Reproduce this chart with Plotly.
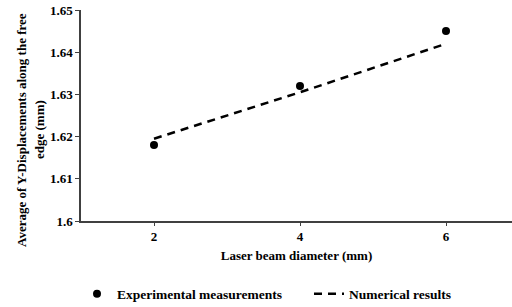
import plotly.graph_objects as go

diameter = [2, 4, 6]
experimental = [1.618, 1.632, 1.645]
numerical = [1.6195, 1.6305, 1.642]
y_ticks = [1.6, 1.61, 1.62, 1.63, 1.64, 1.65]
y_tick_labels = ["1.6", "1.61", "1.62", "1.63", "1.64", "1.65"]
x_ticks = [2, 4, 6]

W, H = 512, 307
L, R, T, B = 81, 0, 10, 86
pw = W - L - R
ph = H - T - B

def px_x(p):
    return (p - L) / pw

def px_y(p):
    return (H - B - p) / ph

FONT = "Liberation Serif"

fig = go.Figure()
fig.add_trace(go.Scatter(
    x=diameter, y=experimental, mode="markers",
    name="<b>Experimental measurements</b>",
    marker=dict(color="black", size=8),
    legend="legend",
))
fig.add_trace(go.Scatter(
    x=diameter, y=numerical, mode="lines",
    name="<b>Numerical results</b>",
    line=dict(color="black", width=2.5, dash="8px,6px"),
    legend="legend2",
))

fig.update_layout(
    width=W, height=H,
    margin=dict(l=L, r=R, t=T, b=B, autoexpand=False),
    plot_bgcolor="white", paper_bgcolor="white",
    font=dict(family=FONT, size=13, color="black"),
    showlegend=True,
    legend=dict(x=px_x(77), y=px_y(294), xanchor="left", yanchor="middle",
                bgcolor="rgba(0,0,0,0)", font=dict(family=FONT, size=13.5),
                tracegroupgap=0),
    legend2=dict(x=px_x(309), y=px_y(294), xanchor="left", yanchor="middle",
                 bgcolor="rgba(0,0,0,0)", font=dict(family=FONT, size=13.5)),
    xaxis=dict(range=[1, 1 + pw / 73.0], tickvals=x_ticks,
               ticktext=["<b>%d</b>" % v for v in x_ticks],
               showgrid=False, zeroline=False, showline=True,
               linecolor="#404040", linewidth=1.5,
               ticks="outside", ticklen=3, tickcolor="#404040",
               tickfont=dict(family=FONT, size=13),
               title=dict(text="<b>Laser beam diameter (mm)</b>",
                          font=dict(family=FONT, size=13), standoff=8)),
    yaxis=dict(range=[1.6, 1.65], tickvals=y_ticks,
               ticktext=["<b>%s</b>" % t for t in y_tick_labels],
               showgrid=False, zeroline=False, showline=True,
               linecolor="#404040", linewidth=1.5,
               ticks="outside", ticklen=4, tickcolor="#404040",
               ticklabeloverflow="allow",
               tickfont=dict(family=FONT, size=13)),
)

fig.add_annotation(text="<b>Average of Y-Displacements along the free</b>",
                   xref="paper", yref="paper", x=px_x(21), y=px_y(130),
                   xanchor="center", yanchor="middle", textangle=-90,
                   showarrow=False, font=dict(family=FONT, size=13))
fig.add_annotation(text="<b>edge (mm)</b>",
                   xref="paper", yref="paper", x=px_x(39), y=px_y(130),
                   xanchor="center", yanchor="middle", textangle=-90,
                   showarrow=False, font=dict(family=FONT, size=13))

fig.write_html("out.html", config={"displayModeBar": False},
               post_script="document.body.style.margin='0px';")
